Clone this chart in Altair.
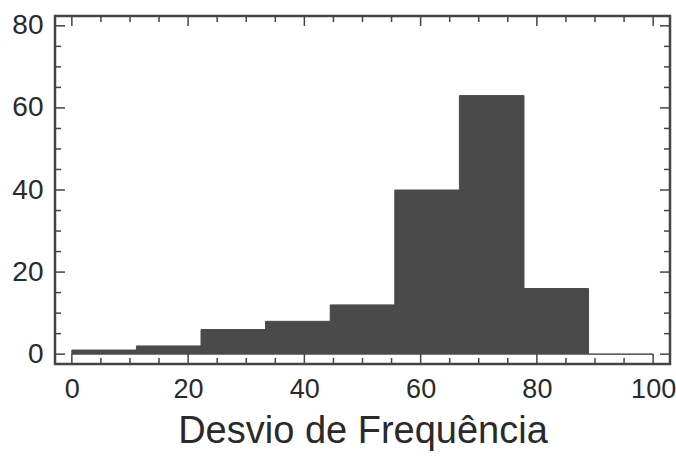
import altair as alt
import pandas as pd

# Histogram data (bin width 100/9)
bin_starts = [0.0, 11.111, 22.222, 33.333, 44.444, 55.556, 66.667, 77.778, 88.889]
bin_ends = [11.111, 22.222, 33.333, 44.444, 55.556, 66.667, 77.778, 88.889, 100.0]
counts = [1, 2, 6, 8, 12, 40, 63, 16, 0]

x_major = [0, 20, 40, 60, 80, 100]
x_minor = [5, 10, 15, 25, 30, 35, 45, 50, 55, 65, 70, 75, 85, 90, 95]
y_major = [0, 20, 40, 60, 80]
y_minor = [5, 10, 15, 25, 30, 35, 45, 50, 55, 65, 70, 75]

W, H = 615, 348
FONT = "Liberation Sans"
DARK = "#444444"
TXT = "#2a2a2a"

bars = pd.DataFrame({"start": bin_starts, "end": bin_ends, "count": counts})

xs = alt.Scale(domain=[-2.9, 102.9], nice=False, zero=False)
ys = alt.Scale(domain=[-2.4, 82.4], nice=False, zero=False)

x_axis = alt.Axis(values=x_major, ticks=False, domain=False, grid=False,
                  labelFontSize=27, labelPadding=12, labelColor=TXT,
                  labelFont=FONT, title="Desvio de Frequência",
                  titleFontSize=38, titleFont=FONT, titleFontWeight="normal",
                  titleColor=TXT, titlePadding=10)
y_axis = alt.Axis(values=y_major, ticks=False, domain=False, grid=False,
                  labelFontSize=28, labelPadding=12, labelColor=TXT,
                  labelFont=FONT, title=None)

hist = alt.Chart(bars).mark_rect(color="#4a4a4a", stroke="#4a4a4a", strokeWidth=1).encode(
    x=alt.X("start:Q", scale=xs, axis=x_axis, title="Desvio de Frequência"),
    x2="end:Q",
    y=alt.Y("count:Q", scale=ys, axis=y_axis, title=None),
    y2=alt.datum(0),
)

def xticks(vals, length):
    df = pd.DataFrame({"v": vals})
    b = alt.Chart(df).mark_rule(color=DARK, strokeWidth=1.5)
    xenc = alt.X("v:Q", scale=xs, axis=x_axis, title="Desvio de Frequência")
    bottom = b.encode(x=xenc, y=alt.value(H), y2=alt.value(H - length))
    top = b.encode(x=xenc, y=alt.value(0), y2=alt.value(length))
    return bottom + top

def yticks(vals, length):
    df = pd.DataFrame({"v": vals})
    b = alt.Chart(df).mark_rule(color=DARK, strokeWidth=1.5)
    yenc = alt.Y("v:Q", scale=ys, axis=y_axis, title=None)
    left = b.encode(y=yenc, x=alt.value(0), x2=alt.value(length))
    right = b.encode(y=yenc, x=alt.value(W), x2=alt.value(W - length))
    return left + right

chart = alt.layer(
    hist,
    xticks(x_major, 10), xticks(x_minor, 6),
    yticks(y_major, 10), yticks(y_minor, 6),
).properties(
    width=W, height=H,
    background="white",
    autosize=alt.AutoSizeParams(type="none"),
    padding={"left": 55, "top": 16, "right": 6, "bottom": 93},
).configure_view(
    stroke=DARK, strokeWidth=2.5
)

chart.save("out.html", embed_options={"renderer": "svg", "actions": False})
